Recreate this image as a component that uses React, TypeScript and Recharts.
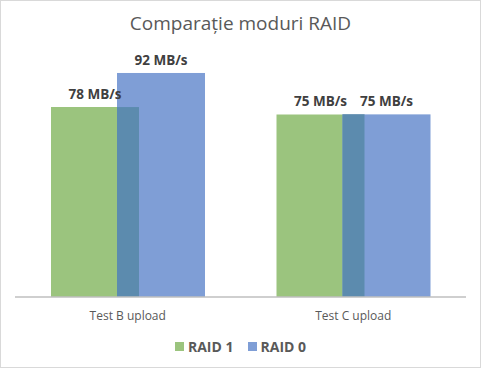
// Comparație moduri RAID — bare grupate, suprapuse (Recharts).
import { BarChart, Bar, XAxis, YAxis, LabelList } from "recharts";

const categories = ["Test B upload", "Test C upload"];
const seriesNames = ["RAID 1", "RAID 0"];
const raid1 = [78, 75];
const raid0 = [92, 75];

const GREEN = "#9BC47E";
const BLUE = "#7F9ED6";
const OVERLAP = "#5C8BAE";
const OVERLAP_PX = 22;

const data = categories.map((c, i) => ({ cat: c, raid1: raid1[i], raid0: raid0[i] }));

// bara albastră: zona comună cu bara verde desenată mai închis
function BlueShape(props: any) {
  const { x, y, width, height, payload } = props;
  const common = Math.min(payload.raid1, payload.raid0);
  const h = (height * common) / payload.raid0;
  return (
    <g>
      <rect x={x} y={y} width={width} height={height} fill={BLUE} />
      <rect x={x} y={y + height - h} width={OVERLAP_PX} height={h} fill={OVERLAP} />
    </g>
  );
}

const labelFmt = (v: any) => `${v} MB/s`;

export default function App() {
  const font = "'Open Sans', 'Noto Sans', sans-serif";
  const labelStyle = { fontSize: 13.5, fontWeight: 700, fill: "#404040", fontFamily: font };
  return (
    <div
      style={{
        position: "absolute", left: 0, top: 0, width: 481, height: 368,
        boxSizing: "border-box", border: "1px solid #D9D9D9", background: "#fff",
        fontFamily: font,
      }}
    >
      <div
        style={{
          position: "absolute", left: 0, right: 0, top: 9, textAlign: "center",
          fontSize: 19, color: "#595959",
        }}
      >
        Comparație moduri RAID
      </div>
      <div style={{ position: "absolute", left: -1, top: -1 }}>
        <BarChart
          width={481}
          height={368}
          data={data}
          margin={{ top: 53.5, right: 15, bottom: 41, left: 15 }}
          barGap={-OVERLAP_PX}
          barSize={88}
        >
          <YAxis hide domain={[0, 100]} />
          <XAxis
            dataKey="cat"
            height={30}
            tickLine={false}
            axisLine={{ stroke: "#BFBFBF", strokeWidth: 1.5 }}
            tick={{ fontSize: 12, fill: "#595959", fontFamily: font }}
            tickMargin={8}
          />
          <Bar dataKey="raid1" name={seriesNames[0]} fill={GREEN} isAnimationActive={false}>
            <LabelList dataKey="raid1" position="top" offset={8} formatter={labelFmt} style={labelStyle} />
          </Bar>
          <Bar dataKey="raid0" name={seriesNames[1]} fill={BLUE} shape={BlueShape} isAnimationActive={false}>
            <LabelList dataKey="raid0" position="top" offset={8} formatter={labelFmt} style={labelStyle} />
          </Bar>
        </BarChart>
      </div>
      <div
        style={{
          position: "absolute", left: 0, right: 0, top: 336, display: "flex",
          justifyContent: "center", gap: 14, fontSize: 14, fontWeight: 700, color: "#595959",
        }}
      >
        {seriesNames.map((n, i) => (
          <div key={n} style={{ display: "flex", alignItems: "center", gap: 4 }}>
            <span style={{ width: 9, height: 9, background: i === 0 ? GREEN : BLUE, display: "inline-block" }} />
            <span>{n}</span>
          </div>
        ))}
      </div>
    </div>
  );
}
